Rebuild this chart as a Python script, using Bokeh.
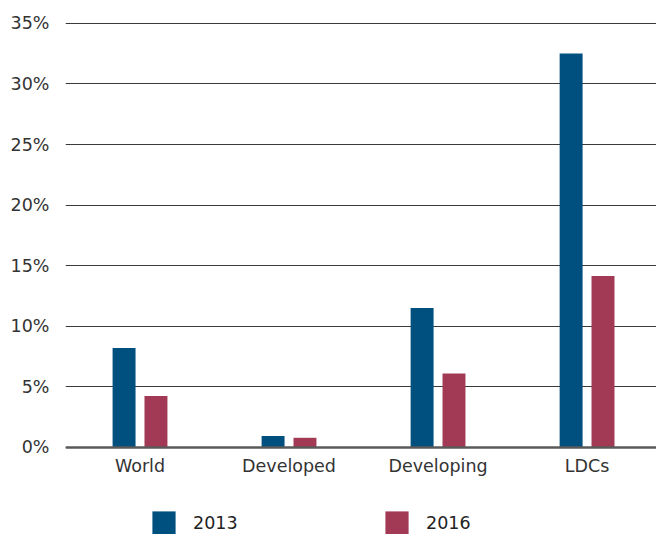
from bokeh.plotting import figure
from bokeh.models import Range1d, FixedTicker, PrintfTickFormatter, Legend, LegendItem, ColumnDataSource
from bokeh.transform import dodge
from bokeh.embed import file_html
from bokeh.resources import INLINE

# Share of population (%) by country group
categories = ["World", "Developed", "Developing", "LDCs"]
years = ["2013", "2016"]
values_2013 = [8.2, 0.95, 11.5, 32.5]
values_2016 = [4.25, 0.8, 6.1, 14.15]
y_ticks = [0, 5, 10, 15, 20, 25, 30, 35]

BLUE = "#00507f"
RED = "#a23a55"
FONT = "DejaVu Sans"
TEXT = "#333333"

positions = [i + 0.5 for i in range(len(categories))]
source = ColumnDataSource(dict(x=positions, v13=values_2013, v16=values_2016))

# the frame runs to the bottom edge; the space under zero holds the
# category names and the legend row
p = figure(width=656, height=534, output_backend="svg", toolbar_location=None,
           x_range=Range1d(0, 3.966), y_range=Range1d(-7.18, 35.15),
           min_border_left=65, min_border_right=0, min_border_top=21, min_border_bottom=0)
p.outline_line_color = None
p.background_fill_color = "white"
p.border_fill_color = "white"

r13 = p.vbar(x=dodge("x", -0.107, range=p.x_range), top="v13", bottom=0, width=0.154,
             source=source, fill_color=BLUE, line_color=None)
r16 = p.vbar(x=dodge("x", 0.107, range=p.x_range), top="v16", bottom=0, width=0.154,
             source=source, fill_color=RED, line_color=None)

# axes
p.xaxis.ticker = FixedTicker(ticks=positions)
p.xaxis.major_label_overrides = {pos: c for pos, c in zip(positions, categories)}
p.xaxis.fixed_location = 0
p.yaxis.ticker = FixedTicker(ticks=y_ticks)
p.yaxis.formatter = PrintfTickFormatter(format="%d%%")
for ax in (p.xaxis, p.yaxis):
    ax.major_tick_line_color = None
    ax.minor_tick_line_color = None
    ax.major_tick_out = 0
    ax.major_tick_in = 0
    ax.major_label_text_font = FONT
    ax.major_label_text_font_size = "17.5px"
    ax.major_label_text_color = TEXT
p.yaxis.axis_line_color = None
p.yaxis.major_label_standoff = 16
p.xaxis.axis_line_color = "#5a5a5a"
p.xaxis.axis_line_width = 2.5
p.xaxis.major_label_standoff = 9

p.xgrid.grid_line_color = None
p.ygrid.grid_line_color = "#3a3a3a"
p.ygrid.grid_line_width = 1

# legend swatches are drawn inset by 10% of the glyph box
legend = Legend(items=[LegendItem(label=years[0], renderers=[r13]),
                       LegendItem(label=years[1], renderers=[r16])],
                orientation="horizontal", location=(84, -3),
                glyph_width=29, glyph_height=29, label_standoff=15,
                label_width=60, label_height=29, spacing=129,
                padding=0, margin=0,
                background_fill_alpha=0, border_line_color=None,
                label_text_font=FONT, label_text_font_size="17.5px",
                label_text_color="#222222")
p.add_layout(legend, "center")

open("out.html", "w").write(file_html(p, INLINE))
